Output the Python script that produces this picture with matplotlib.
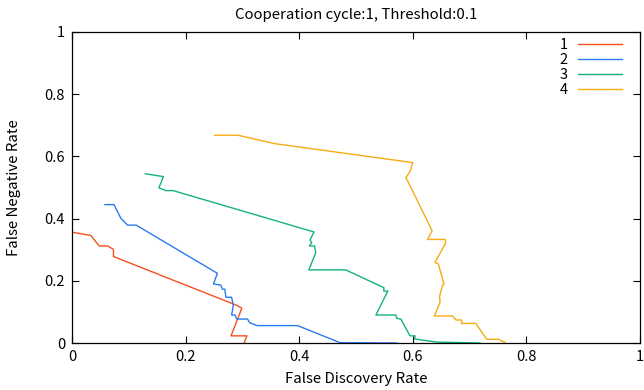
import matplotlib
matplotlib.use("Agg")
import matplotlib.pyplot as plt

# FDR / FNR curves per cooperation cycle setting
fdr_1 = [0.001, 0.033, 0.048, 0.063, 0.073, 0.073, 0.289, 0.299, 0.280, 0.308, 0.303]
fnr_1 = [0.356, 0.346, 0.312, 0.312, 0.301, 0.278, 0.122, 0.112, 0.023, 0.023, 0.0]

fdr_2 = [0.058, 0.074, 0.086, 0.098, 0.113, 0.256, 0.249, 0.262, 0.265, 0.269, 0.271,
         0.281, 0.284, 0.281, 0.287, 0.290, 0.309, 0.313, 0.326, 0.397, 0.472, 0.572]
fnr_2 = [0.445, 0.445, 0.401, 0.379, 0.379, 0.224, 0.190, 0.186, 0.173, 0.173, 0.147,
         0.147, 0.120, 0.090, 0.090, 0.077, 0.077, 0.065, 0.056, 0.056, 0.001, 0.0]

fdr_3 = [0.129, 0.161, 0.153, 0.165, 0.178, 0.426, 0.419, 0.422, 0.418, 0.427, 0.429,
         0.417, 0.482, 0.549, 0.549, 0.556, 0.535, 0.570, 0.572, 0.579, 0.595, 0.604,
         0.603, 0.642, 0.718]
fnr_3 = [0.544, 0.535, 0.499, 0.490, 0.490, 0.357, 0.331, 0.323, 0.312, 0.312, 0.290,
         0.235, 0.235, 0.178, 0.167, 0.167, 0.090, 0.090, 0.079, 0.077, 0.023, 0.023,
         0.013, 0.003, 0.0]

fdr_4 = [0.251, 0.292, 0.357, 0.600, 0.595, 0.588, 0.634, 0.626, 0.657, 0.658, 0.639,
         0.645, 0.655, 0.652, 0.647, 0.648, 0.638, 0.670, 0.676, 0.686, 0.686, 0.711,
         0.730, 0.751, 0.762]
fnr_4 = [0.668, 0.668, 0.641, 0.580, 0.551, 0.532, 0.361, 0.333, 0.333, 0.322, 0.259,
         0.254, 0.189, 0.184, 0.149, 0.131, 0.087, 0.087, 0.074, 0.074, 0.063, 0.063,
         0.012, 0.012, 0.002]

labels = ["1", "2", "3", "4"]
colors = ["#f4511e", "#2a7bf0", "#14b27a", "#f6ab13"]
ticks = [0, 0.2, 0.4, 0.6, 0.8, 1]
tick_labels = ["0", "0.2", "0.4", "0.6", "0.8", "1"]

plt.rcParams["font.family"] = ["Noto Sans CJK JP", "DejaVu Sans"]

fig = plt.figure(figsize=(6.44, 3.9), dpi=100)
ax = fig.add_axes([0.1118, 0.1205, 0.882, 0.7975])

series = [(fdr_1, fnr_1), (fdr_2, fnr_2), (fdr_3, fnr_3), (fdr_4, fnr_4)]
for (x, y), lab, c in zip(series, labels, colors):
    ax.plot(x, y, color=c, lw=1.0, label=lab)

ax.set_xlim(0, 1)
ax.set_ylim(0, 1)
ax.set_xticks(ticks)
ax.set_xticklabels(tick_labels)
ax.set_yticks(ticks)
ax.set_yticklabels(tick_labels)
ax.tick_params(direction="in", top=True, right=True, length=5, width=0.8,
               labelsize=10.5, pad=5)
for s in ax.spines.values():
    s.set_linewidth(0.9)

ax.set_xlabel("False Discovery Rate", fontsize=10.8, labelpad=6)
ax.set_ylabel("False Negative Rate", fontsize=10.8, labelpad=17)
ax.set_title("Cooperation cycle:1, Threshold:0.1", fontsize=10.8, pad=9)

leg = ax.legend(loc="upper right", frameon=False, markerfirst=False, fontsize=10.5,
                handlelength=3.0, handletextpad=0.7, labelspacing=0.08,
                borderaxespad=0.0, bbox_to_anchor=(0.978, 1.0))
for t in leg.get_texts():
    t.set_ha("right")

fig.savefig("out.png", dpi=100)
